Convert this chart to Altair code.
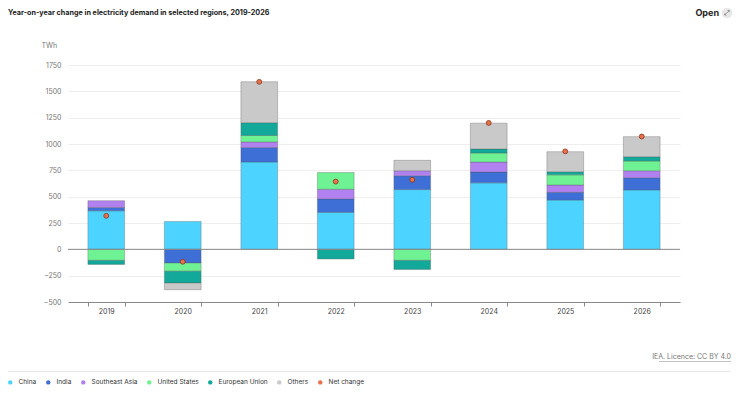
import altair as alt
import pandas as pd

years = ["2019", "2020", "2021", "2022", "2023", "2024", "2025", "2026"]
series_names = ["China", "India", "Southeast Asia", "United States", "European Union", "Others"]
china = [366, 265, 829, 351, 567, 631, 468, 564]
india = [32, -130, 137, 127, 131, 102, 73, 115]
southeast_asia = [64, 0, 54, 92, 48, 96, 70, 67]
united_states = [-105, -78, 61, 159, -105, 86, 96, 92]
european_union = [-38, -112, 121, -92, -86, 38, 29, 41]
others = [0, -63, 389, 0, 99, 245, 191, 191]
net_change = [318, -118, 1590, 643, 660, 1200, 930, 1071]
y_ticks = [-500, -250, 0, 250, 500, 750, 1000, 1250, 1500, 1750]

colors = ["#4dd3ff", "#3d6fd6", "#b182ef", "#6ff293", "#12a89a", "#c9c9c9", "#e8704b"]
legend_domain = series_names + ["Net change"]

rows = []
for si, (name, vals) in enumerate(zip(series_names, [china, india, southeast_asia, united_states, european_union, others])):
    for y, v in zip(years, vals):
        if v != 0:
            rows.append({"year": y, "series": name, "value": v, "order": si})
bars_df = pd.DataFrame(rows)
net_df = pd.DataFrame({"year": years, "value": net_change, "series": ["Net change"] * len(years)})

FONT = "Inter"
color_scale = alt.Scale(domain=legend_domain, range=colors)

x_scale = alt.Scale(paddingInner=0.52, paddingOuter=0.26)
x_axis = alt.Axis(labelAngle=0, labelFontSize=7, labelColor="#444", labelFont=FONT,
                  domainColor="#888", tickColor="#888", tickSize=4, labelPadding=1,
                  tickBand="extent", grid=False)
y_scale = alt.Scale(domain=[-500, 1750], nice=False)
y_axis = alt.Axis(values=y_ticks, format="d", labelFontSize=7, labelColor="#777", labelFont=FONT,
                  domain=False, ticks=False, labelPadding=7, gridColor="#eeeeee", labelOverlap=False,
                  titleAngle=0, titleAlign="left", titleBaseline="middle",
                  titleX=-27, titleY=-20, titleFontSize=7, titleFontWeight="normal",
                  titleColor="#777", titleFont=FONT)

bars = alt.Chart(bars_df).mark_bar(stroke="#555", strokeOpacity=0.4, strokeWidth=0.8).encode(
    x=alt.X("year:N", sort=years, title=None, scale=x_scale, axis=x_axis),
    y=alt.Y("value:Q", stack="zero", scale=y_scale, title="TWh", axis=y_axis),
    color=alt.Color("series:N", scale=color_scale, sort=legend_domain,
                    legend=alt.Legend(title=None, orient="none", direction="horizontal",
                                      legendX=-61, legendY=314, symbolType="circle", symbolSize=20,
                                      symbolStrokeWidth=0, labelFontSize=6.5, labelColor="#333",
                                      labelFont=FONT, columnPadding=8, labelOffset=5)),
    order=alt.Order("order:Q"),
)

zero = alt.Chart(pd.DataFrame({"z": [0]})).mark_rule(color="#888", strokeWidth=1).encode(
    y=alt.Y("z:Q", scale=y_scale, title="TWh", axis=y_axis))

points = alt.Chart(net_df).mark_point(filled=True, size=24, stroke="#8a3418", strokeWidth=0.8, opacity=1).encode(
    x=alt.X("year:N", sort=years, title=None, scale=x_scale, axis=x_axis),
    y=alt.Y("value:Q", scale=y_scale, title="TWh", axis=y_axis),
    color=alt.Color("series:N", scale=color_scale, sort=legend_domain),
)

one = pd.DataFrame({"a": [0]})
title = alt.Chart(one).mark_text(text="Year-on-year change in electricity demand in selected regions, 2019-2026",
                                 align="left", baseline="middle", fontSize=7.2, fontWeight="bold",
                                 color="#222", font=FONT).encode(x=alt.value(-60), y=alt.value(-52))
open_txt = alt.Chart(one).mark_text(text="Open", align="right", baseline="middle", fontSize=9,
                                    fontWeight="bold", color="#222", font=FONT).encode(
    x=alt.value(651), y=alt.value(-52))
open_icon = alt.Chart(one).mark_point(filled=True, size=110, color="#e8e8e8", opacity=1).encode(
    x=alt.value(659), y=alt.value(-52))
open_glyph = alt.Chart(one).mark_text(text="⤢", align="center", baseline="middle", fontSize=7,
                                      color="#444", font="DejaVu Sans").encode(x=alt.value(659), y=alt.value(-52))
source = alt.Chart(one).mark_text(text="IEA. Licence: CC BY 4.0", align="right", baseline="middle",
                                  fontSize=7, color="#777", font=FONT).encode(x=alt.value(663), y=alt.value(292))
underline = alt.Chart(one).mark_rule(color="#999", strokeWidth=0.6).encode(
    x=alt.value(591), x2=alt.value(663), y=alt.value(296.5))
separator = alt.Chart(one).mark_rule(color="#e6e6e6", strokeWidth=1).encode(
    x=alt.value(-60), x2=alt.value(662), y=alt.value(306.5))

chart = alt.layer(bars, zero, points, title, open_icon, open_glyph, open_txt, source, underline, separator).resolve_scale(
    color="shared").properties(
    width=612, height=237,
    autosize=alt.AutoSizeParams(type="none"),
    padding={"left": 60, "top": 57, "right": 53, "bottom": 86},
    background="white",
).configure_view(stroke=None)

chart.save("out.html", embed_options={"renderer": "svg", "actions": False})
